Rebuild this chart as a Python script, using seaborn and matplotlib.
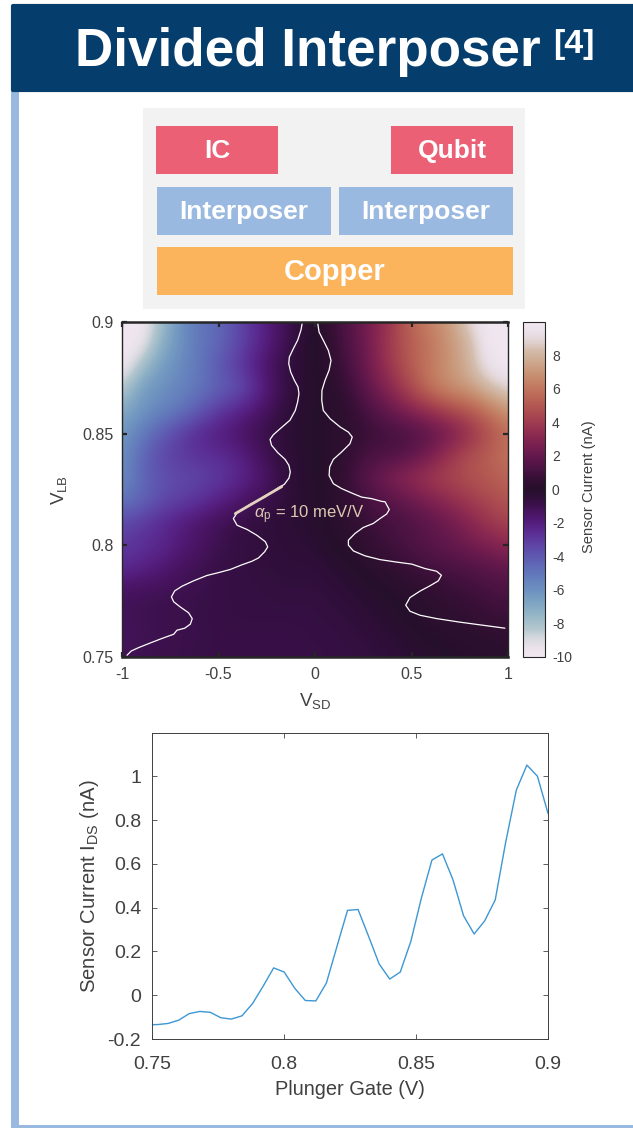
import numpy as np
import pandas as pd
import matplotlib
matplotlib.use("Agg")
import matplotlib.pyplot as plt
from matplotlib.patches import Rectangle
from matplotlib.cm import ScalarMappable
from matplotlib.colors import Normalize, ListedColormap
import seaborn as sns

# ---- data ----
vsd_grid = [round(-1 + 0.1 * i, 1) for i in range(21)]
vlb_grid = [0.90, 0.89, 0.88, 0.87, 0.86, 0.85, 0.84, 0.83, 0.82, 0.81, 0.80, 0.79, 0.78, 0.77, 0.76, 0.75]
row_090 = [-10, -10, -8, -6, -5, -4.5, -3.5, -2.5, -1.5, -0.7, 0, 0.8, 1.8, 2.8, 4, 5.5, 6.5, 7.3, 9, 10, 10]
row_089 = [-10, -9.7, -7.3, -6, -5, -4.5, -3.5, -2.5, -1.5, -0.6, 0, 0.7, 1.6, 2.8, 4.2, 5.3, 6, 7, 8, 10, 10]
row_088 = [-10, -8, -6.5, -5.8, -5, -4, -3, -2, -1, -0.4, 0, 0.5, 1.4, 2.7, 4, 5.2, 6.2, 7, 8, 9.5, 10]
row_087 = [-8.5, -6.5, -6, -5.5, -5, -4.3, -3.8, -2.6, -1.2, -0.5, 0, 0.3, 1, 2.2, 3.3, 4.6, 6, 6.8, 7.2, 8.2, 9]
row_086 = [-7, -6.2, -5.5, -5, -4, -3, -2.3, -1.6, -0.9, -0.3, 0, 0.2, 0.6, 1.4, 2.2, 3, 3.6, 4.4, 5, 6, 7]
row_085 = [-6.3, -5.2, -4.2, -3.2, -2.4, -2, -1.5, -1, -0.6, -0.2, 0, 0.2, 0.5, 0.8, 1, 1.3, 1.8, 2.5, 3.5, 4.7, 5.8]
row_084 = [-6, -4.5, -3.5, -3, -2.8, -2.5, -2.2, -1.4, -0.7, -0.3, 0, 0.2, 0.8, 1.2, 1.4, 1.8, 2.6, 3.8, 4.7, 5.3, 6]
row_083 = [-5.8, -4.5, -3.8, -3.5, -3.3, -3, -2.5, -1.8, -1, -0.3, 0, 0.3, 1, 2, 2.8, 3.4, 4, 4.4, 4.8, 5.1, 5.5]
row_082 = [-5, -4.5, -3.6, -3.2, -2.8, -2.2, -1.6, -1.1, -0.7, -0.3, -0.1, 0.3, 0.7, 1.2, 1.7, 2.2, 2.8, 3.4, 4, 4.5, 5]
row_081 = [-3.5, -3, -2.5, -2, -1.5, -1.1, -0.8, -0.6, -0.4, -0.3, -0.2, 0.2, 0.5, 0.9, 1.1, 1.4, 1.8, 2.3, 3, 3.8, 4.3]
row_080 = [-3, -2.7, -2.4, -1.9, -1.4, -1, -0.7, -0.6, -0.5, -0.4, -0.3, 0.1, 0.3, 0.6, 1, 1.3, 1.7, 2, 2.4, 2.8, 3.2]
row_079 = [-2.6, -2.2, -1.8, -1.3, -1, -0.8, -0.7, -0.6, -0.5, -0.5, -0.5, -0.3, 0, 0.3, 0.5, 0.8, 1, 1.2, 1.4, 1.7, 2]
row_078 = [-1.3, -1.2, -1.1, -1, -0.9, -0.8, -0.7, -0.7, -0.6, -0.6, -0.6, -0.5, -0.3, -0.1, 0.1, 0.3, 0.5, 0.7, 0.9, 1.1, 1.3]
row_077 = [-1.1, -1, -0.9, -0.9, -0.8, -0.8, -0.7, -0.7, -0.7, -0.7, -0.7, -0.6, -0.5, -0.3, -0.1, 0.1, 0.3, 0.4, 0.6, 0.8, 0.9]
row_076 = [-1.2, -1.1, -1, -0.9, -0.9, -0.8, -0.8, -0.8, -0.8, -0.8, -0.7, -0.7, -0.6, -0.5, -0.3, -0.1, 0.1, 0.2, 0.3, 0.4, 0.5]
row_075 = [-1.1, -1, -0.9, -0.9, -0.8, -0.8, -0.8, -0.8, -0.8, -0.8, -0.8, -0.7, -0.7, -0.6, -0.5, -0.3, -0.2, 0, 0.1, 0.15, 0.2]

left_vsd = [-.066, -.073, -.090, -.112, -.133, -.136, -.126, -.107, -.088, -.083, -.090, -.102, -.130, -.181, -.216, -.233,
            -.225, -.193, -.155, -.135, -.128, -.135, -.159, -.190, -.257, -.335, -.404, -.423, -.404, -.352, -.301, -.257,
            -.245, -.261, -.292, -.326, -.378, -.439, -.499, -.560, -.629, -.689, -.727, -.744, -.732, -.698, -.655, -.636,
            -.646, -.675, -.715, -.732, -.793, -.853, -.914, -.952, -.974]
left_vlb = [.8996, .8963, .8918, .8881, .8843, .8813, .8776, .8739, .8709, .8679, .8642, .8604, .8560, .8522, .8495, .8474,
            .8448, .8415, .8385, .8358, .8328, .8301, .8273, .8258, .8217, .8184, .8145, .8120, .8090, .8071, .8045, .8016,
            .7993, .7971, .7944, .7929, .7913, .7892, .7878, .7865, .7841, .7817, .7796, .7769, .7747, .7724, .7698, .7672,
            .7647, .7629, .7620, .7602, .7583, .7563, .7542, .7527, .7508]
right_vsd = [.014, .021, .043, .069, .083, .073, .052, .036, .035, .043, .078, .130, .173, .193, .181, .138, .095, .076, .073,
             .095, .138, .199, .242, .294, .345, .363, .385, .371, .337, .302, .250, .207, .173, .173, .199, .259, .337, .423,
             .501, .570, .630, .655, .639, .596, .544, .492, .470, .492, .544, .630, .751, .872, .984]
right_vlb = [.8996, .8955, .8918, .8873, .8828, .8784, .8739, .8694, .8649, .8604, .8567, .8530, .8507, .8485, .8455, .8418,
             .8385, .8351, .8313, .8276, .8254, .8231, .8216, .8209, .8197, .8195, .8160, .8140, .8120, .8098, .8080, .8053,
             .8023, .8001, .7975, .7953, .7936, .7925, .7916, .7896, .7884, .7866, .7841, .7819, .7795, .7766, .7732, .7705,
             .7687, .7672, .7656, .7642, .7629]
slope_vsd = [-.413, -.172]
slope_vlb = [.8142, .8263]

plunger_gate = [.748, .752, .756, .760, .764, .768, .772, .776, .780, .784, .788, .792, .796, .800, .804, .808, .812, .816,
                .820, .824, .828, .832, .836, .840, .844, .848, .852, .856, .860, .864, .868, .872, .876, .880, .884, .888,
                .892, .896, .900]
sensor_current = [-.135, -.134, -.129, -.114, -.084, -.074, -.078, -.103, -.109, -.094, -.038, .041, .125, .106, .032, -.024,
                  -.026, .056, .223, .388, .392, .269, .143, .074, .106, .246, .444, .618, .646, .527, .363, .280, .340,
                  .436, .702, .938, 1.052, 1.001, .831]

heat_xticks = [-1, -0.5, 0, 0.5, 1]
heat_xticklabels = ["-1", "-0.5", "0", "0.5", "1"]
heat_yticks = [0.75, 0.8, 0.85, 0.9]
heat_yticklabels = ["0.75", "0.8", "0.85", "0.9"]
cbar_ticks = [-10, -8, -6, -4, -2, 0, 2, 4, 6, 8]
line_xticks = [0.75, 0.8, 0.85, 0.9]
line_xticklabels = ["0.75", "0.8", "0.85", "0.9"]
line_yticks = [-0.2, 0, 0.2, 0.4, 0.6, 0.8, 1]
line_yticklabels = ["-0.2", "0", "0.2", "0.4", "0.6", "0.8", "1"]
block_labels = ["IC", "Qubit", "Interposer", "Interposer", "Copper"]

# ---- style ----
block_boxes = [(156, 126, 122, 48, "#eb6075", 19),
               (391, 126, 122, 48, "#eb6075", 19),
               (157, 187, 174, 48, "#9ab9e1", 19),
               (339, 187, 174, 48, "#9ab9e1", 19),
               (157, 247, 356, 48, "#fbb35c", 21)]
sns.set_theme(style="white")
FONT = ["Liberation Sans", "DejaVu Sans"]
plt.rcParams["font.family"] = FONT
plt.rcParams["mathtext.fontset"] = "custom"
plt.rcParams["mathtext.rm"] = "Liberation Sans"
plt.rcParams["mathtext.it"] = "Liberation Sans:italic"
plt.rcParams["mathtext.bf"] = "Liberation Sans:bold"
plt.rcParams["mathtext.fallback"] = "cm"
TXT = "#404040"
W, H = 633, 1129

# twilight with lighter ends and a slightly darker middle, as in the reference colour bar
_t = np.linspace(0, 1, 512)
_rgb = plt.get_cmap("twilight")(_t)[:, :3]
_end = np.clip((np.abs(_t - 0.5) - 0.42) / 0.08, 0, 1)[:, None]
_rgb = _rgb * (1 - _end) + np.array([0.945, 0.905, 0.945]) * _end
_mid = np.clip(1 - np.abs(_t - 0.5) / 0.06, 0, 1)[:, None]
_rgb = _rgb * (1 - 0.2 * _mid)
CMAP = ListedColormap(_rgb)

fig = plt.figure(figsize=(W / 100, H / 100), dpi=100, facecolor="white")


def axpx(x0, y0, x1, y1, **kw):
    return fig.add_axes([x0 / W, 1 - y1 / H, (x1 - x0) / W, (y1 - y0) / H], **kw)


# ---- background / schematic in pixel coordinates ----
bg = axpx(0, 0, W, H)
bg.set_xlim(0, W)
bg.set_ylim(H, 0)
bg.axis("off")
bg.add_patch(Rectangle((11, 60), 8, 1067, color="#9ab9e1", lw=0))
bg.add_patch(Rectangle((11, 1125), 622, 3, color="#9ab9e1", lw=0))
bg.add_patch(Rectangle((13, 6), 640, 84, fc="#053e6d", ec="#053e6d", lw=3, joinstyle="round"))
bg.text(75, 52, "Divided Interposer", color="white", fontsize=38.2, fontweight="bold", va="center", ha="left")
bg.text(553, 44, "[4]", color="white", fontsize=24.5, fontweight="bold", va="center", ha="left")
bg.add_patch(Rectangle((143, 108), 382, 201, color="#f2f2f2", lw=0))
for name, (x, y, w, h, col, fs) in zip(block_labels, block_boxes):
    bg.add_patch(Rectangle((x, y), w, h, color=col, lw=0))
    bg.text(x + w / 2, y + h / 2 + 1, name, color="white", fontsize=fs, fontweight="bold", ha="center", va="center")

# ---- heat map ----
Z = np.array([row_090, row_089, row_088, row_087, row_086, row_085, row_084, row_083,
              row_082, row_081, row_080, row_079, row_078, row_077, row_076, row_075], dtype=float)
ax = axpx(122, 322, 508, 657)
ax.imshow(Z, cmap=CMAP, vmin=-10, vmax=10, aspect="auto", interpolation="bicubic",
          extent=[vsd_grid[0] - 0.05, vsd_grid[-1] + 0.05, vlb_grid[-1] - 0.005, vlb_grid[0] + 0.005])
sns.lineplot(x=left_vsd, y=left_vlb, sort=False, estimator=None, color="white", lw=0.9, ax=ax)
sns.lineplot(x=right_vsd, y=right_vlb, sort=False, estimator=None, color="white", lw=0.9, ax=ax)
sns.lineplot(x=slope_vsd, y=slope_vlb, sort=False, estimator=None, color="#e3d2bf", lw=2.0, ax=ax)
ax.text(-0.316, 0.8135, r"$\alpha_{\mathrm{p}}$ = 10 meV/V", color="#dcc8b2", fontsize=12, ha="left", va="center")
ax.set_xlim(-1, 1)
ax.set_ylim(0.75, 0.9)
ax.set_xticks(heat_xticks, heat_xticklabels)
ax.set_yticks(heat_yticks, heat_yticklabels)
ax.tick_params(direction="in", length=3.5, width=1.6, color="#262626", labelcolor=TXT, labelsize=11.5, top=True, right=True,
               bottom=True, left=True)
ax.tick_params(axis="x", pad=7)
ax.tick_params(axis="y", pad=6)
for s in ax.spines.values():
    s.set_linewidth(1.0)
    s.set_color("#262626")
ax.spines["top"].set_linewidth(1.8)
ax.spines["bottom"].set_linewidth(1.8)
ax.set_xlabel(r"V$_{\mathrm{SD}}$", fontsize=13.5, color=TXT, labelpad=7)
ax.set_ylabel(r"V$_{\mathrm{LB}}$", fontsize=13.5, color=TXT, labelpad=10)

# ---- colour bar ----
cax = axpx(523, 322, 545, 657)
cb = fig.colorbar(ScalarMappable(Normalize(-10, 10), CMAP), cax=cax)
cb.ax.set_yticks(cbar_ticks, [str(t) for t in cbar_ticks])
cb.ax.tick_params(direction="in", length=3, width=0.7, color="#262626", labelcolor=TXT, labelsize=10, right=True, pad=5)
cb.outline.set_linewidth(0.8)
cb.outline.set_edgecolor("#262626")
bg.text(589, 487, "Sensor Current (nA)", rotation=90, color=TXT, fontsize=10.6, ha="center", va="center")

# ---- line chart ----
lax = axpx(152.3, 732.7, 548, 1039)
df = pd.DataFrame({"gate": plunger_gate, "current": sensor_current})
sns.lineplot(data=df, x="gate", y="current", color="#3d97d3", lw=1.0, ax=lax)
lax.set_xlim(0.75, 0.9)
lax.set_ylim(-0.2, 1.2)
lax.set_xticks(line_xticks, line_xticklabels)
lax.set_yticks(line_yticks, line_yticklabels)
lax.tick_params(direction="in", length=3.5, width=0.6, color="#404040", labelcolor=TXT, labelsize=14, top=True, right=True,
                bottom=True, left=True)
lax.tick_params(axis="x", pad=12)
lax.tick_params(axis="y", pad=8)
for s in lax.spines.values():
    s.set_linewidth(0.7)
    s.set_color("#404040")
lax.set_xlabel("Plunger Gate (V)", fontsize=14.4, color=TXT, labelpad=5)
lax.set_ylabel(r"Sensor Current I$_{\mathrm{DS}}$ (nA)", fontsize=14.6, color=TXT, labelpad=5)

fig.savefig("out.png", dpi=100)
